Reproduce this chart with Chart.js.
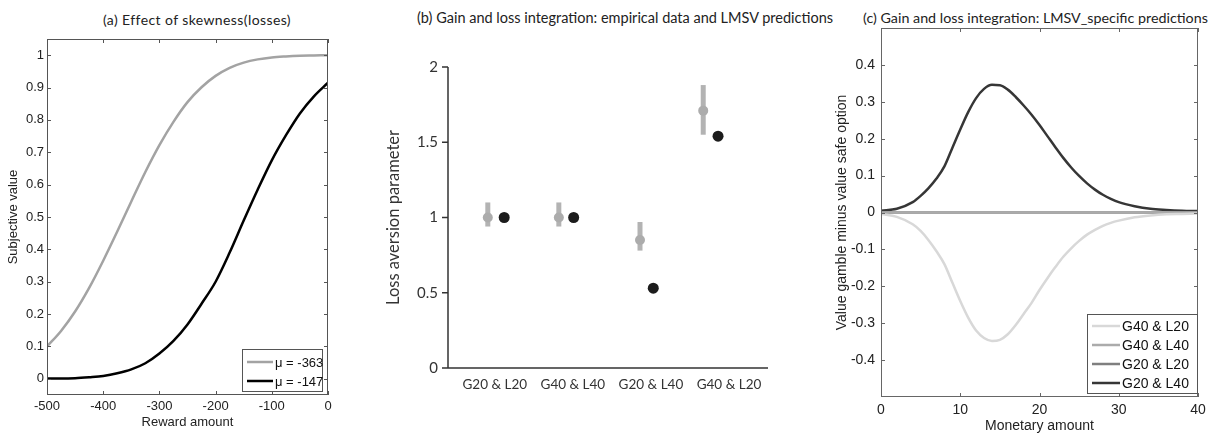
<!DOCTYPE html>
<html>
<head>
<meta charset="utf-8">
<script src="https://cdn.jsdelivr.net/npm/chart.js@4.4.1/dist/chart.umd.min.js"></script>
<style>
body { margin:0; background:#fff; width:1220px; height:435px; position:relative; overflow:hidden; }
canvas { position:absolute; top:0; }
.ttl { position:absolute; font-family:Lato, "Open Sans", sans-serif; color:#222; white-space:nowrap; }
</style>
</head>
<body>
<div class="ttl" style="left:103px;top:11px;font-size:14px;letter-spacing:0.4px">(a) Effect of skewness(losses)</div>
<div class="ttl" style="left:417px;top:9px;font-size:14.5px">(b) Gain and loss integration: empirical data and LMSV predictions</div>
<div class="ttl" style="left:863px;top:9px;font-size:14.3px">(c) Gain and loss integration: LMSV_specific predictions</div>
<canvas id="chartA" width="375" height="435" style="left:0px"></canvas>
<canvas id="chartB" width="420" height="435" style="left:375px"></canvas>
<canvas id="chartC" width="420" height="435" style="left:800px"></canvas>
<script>
// ---- panel (a): effect of skewness (losses)
var rewardX = [-500,-475,-450,-425,-400,-375,-350,-325,-300,-275,-250,-225,-200,-175,-150,-125,-100,-75,-50,-25,0];
var mu363 = [0.100,0.148,0.208,0.281,0.365,0.455,0.548,0.639,0.722,0.794,0.855,0.901,0.936,0.961,0.977,0.987,0.993,0.996,0.998,0.999,1.000];
var mu147 = [0.001,0.001,0.002,0.005,0.009,0.017,0.029,0.048,0.078,0.117,0.168,0.232,0.300,0.390,0.489,0.585,0.675,0.752,0.820,0.873,0.915];
var ticksAx = [-500,-400,-300,-200,-100,0];
var ticksAy = [0,0.1,0.2,0.3,0.4,0.5,0.6,0.7,0.8,0.9,1];

// ---- panel (b): loss aversion parameter
var groups = ["G20 & L20","G40 & L40","G20 & L40","G40 & L20"];
var empPos = [0.91,1.82,2.86,3.67];
var empMean = [1.00,1.00,0.85,1.71];
var empLow = [0.94,0.94,0.78,1.55];
var empHigh = [1.10,1.10,0.97,1.88];
var lmsvPos = [1.12,2.01,3.03,3.86];
var lmsvMean = [1.00,1.00,0.53,1.54];
var ticksBy = [0,0.5,1,1.5,2];

// ---- panel (c): LMSV specific predictions
var moneyX = [0,2,4,5,6,7,8,9,10,11,12,13,14,15,16,17,18,19,20,21,22,23,24,25,26,27,28,29,30,32,34,36,38,40];
var g40l20 = [-0.004,-0.012,-0.032,-0.05,-0.075,-0.105,-0.14,-0.19,-0.24,-0.285,-0.32,-0.34,-0.348,-0.345,-0.33,-0.305,-0.275,-0.245,-0.21,-0.178,-0.148,-0.12,-0.097,-0.077,-0.06,-0.047,-0.036,-0.028,-0.022,-0.013,-0.008,-0.005,-0.004,-0.003];
var g20l40 = [0.005,0.01,0.028,0.045,0.066,0.092,0.125,0.175,0.225,0.272,0.31,0.335,0.346,0.345,0.333,0.313,0.29,0.265,0.237,0.207,0.177,0.148,0.122,0.099,0.079,0.062,0.048,0.037,0.028,0.017,0.01,0.007,0.005,0.004];
var flatX = [0,40];
var g40l40 = [0,0];
var g20l20 = [0,0];
var ticksCx = [0,10,20,30,40];
var ticksCy = [-0.4,-0.3,-0.2,-0.1,0,0.1,0.2,0.3,0.4];

function pts(xs, ys){
	return xs.map(function(x, i){ return {x: x, y: ys[i]}; });
}
function fixTicks(list){
	return function(scale){ scale.ticks = list.map(function(v){ return {value: v}; }); };
}
function plain(v){ return String(v); }

// matlab style box with inward ticks
var matlabBox = {
	id: 'matlabBox',
	afterDatasetsDraw: function(chart, args, o){
		var ctx = chart.ctx, a = chart.chartArea, x = chart.scales.x, y = chart.scales.y;
		ctx.save();
		ctx.strokeStyle = o.color;
		ctx.lineWidth = 1;
		ctx.strokeRect(a.left + 0.5, a.top + 0.5, a.right - a.left - 1, a.bottom - a.top - 1);
		ctx.beginPath();
		x.ticks.forEach(function(t){
			var px = Math.round(x.getPixelForValue(t.value)) + 0.5;
			ctx.moveTo(px, a.bottom); ctx.lineTo(px, a.bottom - o.len);
			ctx.moveTo(px, a.top); ctx.lineTo(px, a.top + o.len);
		});
		y.ticks.forEach(function(t){
			var py = Math.round(y.getPixelForValue(t.value)) + 0.5;
			ctx.moveTo(a.left, py); ctx.lineTo(a.left + o.len, py);
			ctx.moveTo(a.right, py); ctx.lineTo(a.right - o.len, py);
		});
		ctx.stroke();
		ctx.restore();
	}
};

// legend box drawn inside the plot, bottom right
var boxLegend = {
	id: 'boxLegend',
	afterDraw: function(chart, args, o){
		var ctx = chart.ctx, a = chart.chartArea;
		var x0 = a.right - o.gapRight - o.width;
		var y0 = a.bottom - o.gapBottom - o.height;
		ctx.save();
		ctx.fillStyle = '#fff';
		ctx.fillRect(x0, y0, o.width, o.height);
		ctx.strokeStyle = '#555';
		ctx.lineWidth = 1;
		ctx.strokeRect(x0 + 0.5, y0 + 0.5, o.width - 1, o.height - 1);
		ctx.font = o.font;
		ctx.textBaseline = 'middle';
		chart.data.datasets.forEach(function(ds, i){
			var yy = y0 + o.firstRow + i * o.rowGap;
			ctx.strokeStyle = ds.borderColor;
			ctx.lineWidth = ds.borderWidth;
			ctx.beginPath();
			ctx.moveTo(x0 + o.lineStart, yy);
			ctx.lineTo(x0 + o.lineStart + o.lineLen, yy);
			ctx.stroke();
			ctx.fillStyle = '#111';
			ctx.fillText(ds.label, x0 + o.lineStart + o.lineLen + 2, yy + 1);
		});
		ctx.restore();
	}
};

// gray error bars for the empirical points
var errorBars = {
	id: 'errorBars',
	beforeDatasetsDraw: function(chart){
		var ctx = chart.ctx, x = chart.scales.x, y = chart.scales.y;
		ctx.save();
		ctx.strokeStyle = '#b3b3b3';
		ctx.lineWidth = 5;
		for(var i=0; i<empPos.length; ++i){
			var px = x.getPixelForValue(empPos[i]);
			ctx.beginPath();
			ctx.moveTo(px, y.getPixelForValue(empLow[i]));
			ctx.lineTo(px, y.getPixelForValue(empHigh[i]));
			ctx.stroke();
		}
		ctx.restore();
	}
};

// open axes (left + bottom) with outward y ticks
var openAxes = {
	id: 'openAxes',
	afterDraw: function(chart){
		var ctx = chart.ctx, a = chart.chartArea, y = chart.scales.y;
		ctx.save();
		ctx.strokeStyle = '#333';
		ctx.lineWidth = 1.5;
		ctx.beginPath();
		ctx.moveTo(a.left, a.top); ctx.lineTo(a.left, a.bottom);
		ctx.moveTo(a.left - 6, a.bottom); ctx.lineTo(a.right, a.bottom);
		y.ticks.forEach(function(t){
			var py = y.getPixelForValue(t.value);
			ctx.moveTo(a.left - 6, py); ctx.lineTo(a.left, py);
		});
		ctx.stroke();
		ctx.restore();
	}
};

Chart.defaults.animation = false;
Chart.defaults.events = [];
Chart.defaults.plugins.legend.display = false;
Chart.defaults.plugins.tooltip.enabled = false;

var noGrid = {display: false, drawTicks: false};
var arialFam = '"Liberation Sans", Arial, sans-serif';
var sansA = {family: arialFam, size: 13};

new Chart(document.getElementById('chartA'), {
	type: 'line',
	data: {
		datasets: [
			{label: 'μ = -363', data: pts(rewardX, mu363), borderColor: '#a3a3a3', borderWidth: 2.5, pointRadius: 0, cubicInterpolationMode: 'monotone'},
			{label: 'μ = -147', data: pts(rewardX, mu147), borderColor: '#000', borderWidth: 2.5, pointRadius: 0, cubicInterpolationMode: 'monotone'}
		]
	},
	options: {
		responsive: false,
		layout: {padding: {left: 0, top: 39, right: 47, bottom: 0}},
		plugins: {
			matlabBox: {color: '#555', len: 4},
			boxLegend: {gapRight: 5, gapBottom: 3, width: 81, height: 43, firstRow: 13, rowGap: 19, lineStart: 5, lineLen: 26, font: '13px "Liberation Sans", Arial, sans-serif'}
		},
		scales: {
			x: {type: 'linear', min: -500, max: 0, afterBuildTicks: fixTicks(ticksAx),
				ticks: {color: '#222', font: sansA, padding: 4, maxRotation: 0, autoSkip: false, callback: plain},
				grid: noGrid, border: {display: false},
				title: {display: true, text: 'Reward amount', color: '#222', font: sansA, padding: {top: 0, bottom: 5}},
				afterFit: function(s){ s.height = 40; }},
			y: {type: 'linear', min: -0.05, max: 1.05, afterBuildTicks: fixTicks(ticksAy),
				ticks: {color: '#222', font: sansA, padding: 3, autoSkip: false, callback: plain},
				grid: noGrid, border: {display: false},
				title: {display: true, text: 'Subjective value', color: '#222', font: sansA, padding: {top: 6, bottom: 0}},
				afterFit: function(s){ s.width = 47; }}
		}
	},
	plugins: [matlabBox, boxLegend]
});

var lato = 'Lato, "Open Sans", sans-serif';

new Chart(document.getElementById('chartB'), {
	type: 'scatter',
	data: {
		datasets: [
			{label: 'Empirical', data: pts(empPos, empMean), backgroundColor: '#acacac', borderWidth: 0, pointRadius: 5},
			{label: 'LMSV', data: pts(lmsvPos, lmsvMean), backgroundColor: '#1c1c1c', borderWidth: 0, pointRadius: 5.5}
		]
	},
	options: {
		responsive: false,
		layout: {padding: {left: 0, top: 67, right: 27, bottom: 0}},
		scales: {
			x: {type: 'linear', min: 0.4, max: 4.5,
				afterBuildTicks: function(s){ s.ticks = groups.map(function(g, i){ return {value: i + 1}; }); },
				ticks: {color: '#333', font: {family: lato, size: 13.5}, padding: 9, maxRotation: 0, autoSkip: false,
					callback: function(v){ return groups[v - 1]; }},
				grid: noGrid, border: {display: false},
				afterFit: function(s){ s.height = 67; }},
			y: {type: 'linear', min: 0, max: 2, afterBuildTicks: fixTicks(ticksBy),
				ticks: {color: '#333', font: {family: lato, size: 15}, padding: 10, autoSkip: false, callback: plain},
				grid: noGrid, border: {display: false},
				title: {display: true, text: 'Loss aversion parameter', color: '#333', font: {family: lato, size: 16.5}, padding: {top: 9, bottom: 0}},
				afterFit: function(s){ s.width = 73; }}
		}
	},
	plugins: [errorBars, openAxes]
});

var sansC = {family: arialFam, size: 14};

new Chart(document.getElementById('chartC'), {
	type: 'line',
	data: {
		datasets: [
			{label: 'G40 & L20', data: pts(moneyX, g40l20), borderColor: '#d8d8d8', borderWidth: 2.5, pointRadius: 0, cubicInterpolationMode: 'monotone'},
			{label: 'G40 & L40', data: pts(flatX, g40l40), borderColor: '#ababab', borderWidth: 2.5, pointRadius: 0},
			{label: 'G20 & L20', data: pts(flatX, g20l20), borderColor: '#7f7f7f', borderWidth: 2.5, pointRadius: 0},
			{label: 'G20 & L40', data: pts(moneyX, g20l40), borderColor: '#363636', borderWidth: 2.5, pointRadius: 0, cubicInterpolationMode: 'monotone'}
		]
	},
	options: {
		responsive: false,
		layout: {padding: {left: 0, top: 28, right: 22, bottom: 0}},
		plugins: {
			matlabBox: {color: '#666', len: 4},
			boxLegend: {gapRight: 0, gapBottom: 3, width: 111, height: 80, firstRow: 12, rowGap: 19, lineStart: 5, lineLen: 28, font: '14px "Liberation Sans", Arial, sans-serif'}
		},
		scales: {
			x: {type: 'linear', min: 0, max: 40, afterBuildTicks: fixTicks(ticksCx),
				ticks: {color: '#222', font: sansC, padding: 5, maxRotation: 0, autoSkip: false, callback: plain},
				grid: noGrid, border: {display: false},
				title: {display: true, text: 'Monetary amount', color: '#222', font: sansC, padding: {top: 0, bottom: 0}},
				afterFit: function(s){ s.height = 38; }},
			y: {type: 'linear', min: -0.5, max: 0.5, afterBuildTicks: fixTicks(ticksCy),
				ticks: {color: '#222', font: sansC, padding: 6, autoSkip: false, callback: plain},
				grid: noGrid, border: {display: false},
				title: {display: true, text: 'Value gamble minus value safe option', color: '#222', font: sansC, padding: {top: 34, bottom: 0}},
				afterFit: function(s){ s.width = 81; }}
		}
	},
	plugins: [matlabBox, boxLegend]
});
</script>
</body>
</html>
